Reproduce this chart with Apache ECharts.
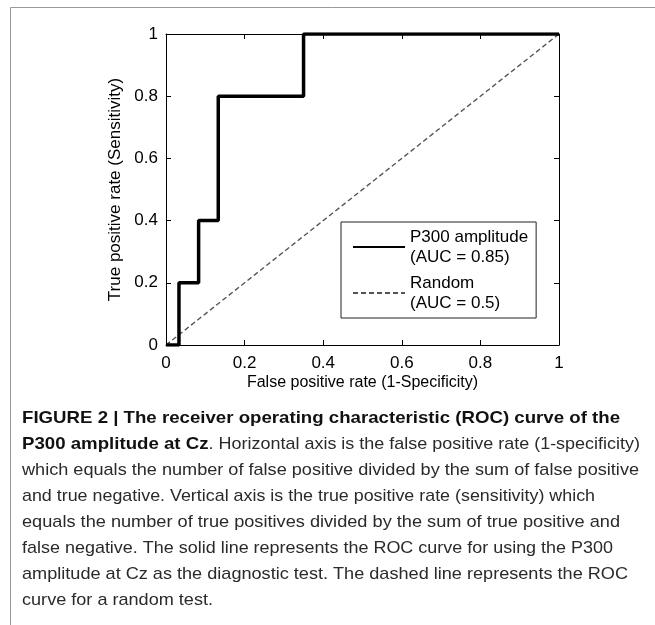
<!DOCTYPE html>
<html><head><meta charset="utf-8">
<script src="https://cdn.jsdelivr.net/npm/echarts@6/dist/echarts.min.js"></script>
<style>html,body{margin:0;padding:0;background:#fff}#c{width:655px;height:625px}</style>
</head><body><div id="c"></div>
<script>
// ---- data ----
const tickValues = [0, 0.2, 0.4, 0.6, 0.8, 1];
const rocFPR = [0, 0.033, 0.033, 0.083, 0.083, 0.133, 0.133, 0.35, 0.35, 1];
const rocTPR = [0, 0, 0.2, 0.2, 0.4, 0.4, 0.8, 0.8, 1, 1];
const randomFPR = [0, 1];
const randomTPR = [0, 1];
const seriesNames = ['P300 amplitude\n(AUC = 0.85)', 'Random\n(AUC = 0.5)'];
const xTitle = 'False positive rate (1-Specificity)';
const yTitle = 'True positive rate (Sensitivity)';
const captionBold1 = 'FIGURE 2 | The receiver operating characteristic (ROC) curve of the';
const captionBold2 = 'P300 amplitude at Cz';
const captionRest2 = '. Horizontal axis is the false positive rate (1-specificity)';
const captionLines = [
  'which equals the number of false positive divided by the sum of false positive',
  'and true negative. Vertical axis is the true positive rate (sensitivity) which',
  'equals the number of true positives divided by the sum of true positive and',
  'false negative. The solid line represents the ROC curve for using the P300',
  'amplitude at Cz as the diagnostic test. The dashed line represents the ROC',
  'curve for a random test.'
];

// ---- layout (text line right edges in px) ----
const FONT = '"Liberation Sans", Arial, Helvetica, sans-serif';
const ctx = document.createElement('canvas').getContext('2d');
function measure(t, weight, size) { ctx.font = weight + ' ' + size + 'px ' + FONT; return ctx.measureText(t).width; }
const capSize = 17;
const capX = 22;
const capY0 = 418, capDY = 26.1;
const lineEnds = [639, 595, 620, 613, 628, 213];
const boldScale = (620 - capX) / measure(captionBold1, 'bold', capSize);
const bold2W = measure(captionBold2, 'bold', capSize) * boldScale;
const rest2Scale = (640 - capX - bold2W) / measure(captionRest2, 'normal', capSize);
const regFont = 'normal ' + capSize + 'px ' + FONT;
const boldFont = 'bold ' + capSize + 'px ' + FONT;

const graphics = [
  { type: 'line', shape: { x1: 10.5, y1: 7.5, x2: 655, y2: 7.5 }, style: { stroke: '#9a9a9a', lineWidth: 1 } },
  { type: 'line', shape: { x1: 10.5, y1: 7.5, x2: 10.5, y2: 625 }, style: { stroke: '#9a9a9a', lineWidth: 1 } },
  { type: 'text', x: capX, y: capY0, scaleX: boldScale, style: { text: captionBold1, font: boldFont, fill: '#111', verticalAlign: 'middle' } },
  { type: 'text', x: capX, y: capY0 + capDY, scaleX: boldScale, style: { text: captionBold2, font: boldFont, fill: '#111', verticalAlign: 'middle' } },
  { type: 'text', x: capX + bold2W, y: capY0 + capDY, scaleX: rest2Scale, style: { text: captionRest2, font: regFont, fill: '#2a2a2a', verticalAlign: 'middle' } }
];
captionLines.forEach((t, i) => {
  const sc = (lineEnds[i] - capX) / measure(t, 'normal', capSize);
  graphics.push({ type: 'text', x: capX, y: capY0 + capDY * (i + 2), scaleX: sc, style: { text: t, font: regFont, fill: '#2a2a2a', verticalAlign: 'middle' } });
});

function axisCommon(extra) {
  return Object.assign({
    type: 'value', min: 0, max: 1, interval: 0.2,
    axisLine: { show: true, onZero: false, lineStyle: { color: '#000', width: 1 } },
    axisTick: { show: true, inside: true, length: 5, lineStyle: { color: '#000' } },
    splitLine: { show: false },
    axisLabel: { show: false }
  }, extra);
}
const labelStyle = { show: true, fontSize: 17, color: '#000', fontFamily: FONT, formatter: v => String(+v.toFixed(1)) };

const chart = echarts.init(document.getElementById('c'), null, { renderer: 'canvas' });
chart.setOption({
  animation: false,
  backgroundColor: '#fff',
  grid: { left: 166, right: 96, top: 34, bottom: 280, show: false },
  xAxis: [
    axisCommon({ position: 'bottom', axisLabel: Object.assign({ margin: 10 }, labelStyle), name: xTitle, nameLocation: 'middle', nameGap: 30, nameTextStyle: { fontSize: 16, color: '#000', fontFamily: FONT } }),
    axisCommon({ position: 'top' })
  ],
  yAxis: [
    axisCommon({ position: 'left', axisLabel: Object.assign({ margin: 8 }, labelStyle), name: yTitle, nameLocation: 'middle', nameGap: 39, nameTextStyle: { fontSize: 17, color: '#000', fontFamily: FONT } }),
    axisCommon({ position: 'right' })
  ],
  legend: {
    orient: 'vertical', left: 341, top: 222,
    borderColor: '#222', borderWidth: 1, padding: [5, 8, 5, 11], itemGap: 6,
    itemWidth: 52, itemHeight: 14,
    itemStyle: { opacity: 0 },
    textStyle: { fontSize: 17, color: '#000', lineHeight: 20, fontFamily: FONT },
    data: seriesNames
  },
  series: [
    { name: seriesNames[1], type: 'line', xAxisIndex: 0, yAxisIndex: 0, symbol: 'none', z: 2, color: '#555',
      data: randomFPR.map((x, i) => [x, randomTPR[i]]),
      lineStyle: { color: '#555', width: 1.4, type: [5, 3] } },
    { name: seriesNames[0], type: 'line', xAxisIndex: 0, yAxisIndex: 0, symbol: 'none', z: 3, color: '#000',
      data: rocFPR.map((x, i) => [x, rocTPR[i]]),
      lineStyle: { color: '#000', width: 3.5 } }
  ]
});
chart.setOption({ graphic: graphics });
</script></body></html>
